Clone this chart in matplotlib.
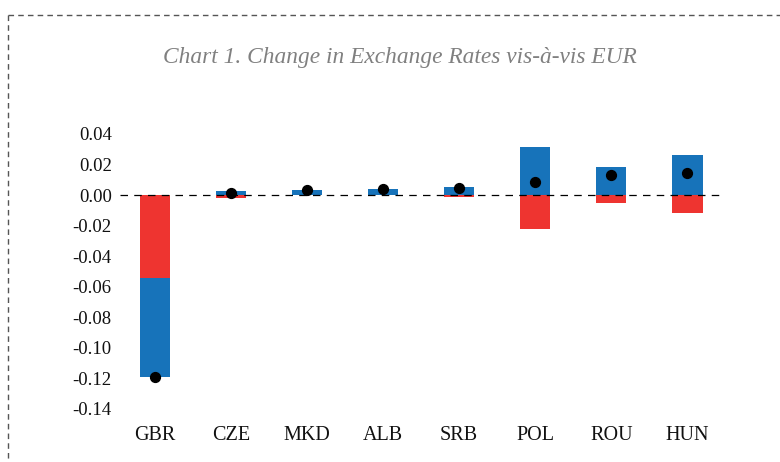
import numpy as np
import matplotlib
matplotlib.use("Agg")
import matplotlib.pyplot as plt
from matplotlib.lines import Line2D

# data
countries = ["GBR", "CZE", "MKD", "ALB", "SRB", "POL", "ROU", "HUN"]
blue_part = [-0.065, 0.0028, 0.0033, 0.0040, 0.0054, 0.0312, 0.0181, 0.0260]
red_part = [-0.054, -0.0018, -0.0003, -0.0003, -0.0011, -0.0224, -0.0054, -0.0120]
total_change = [-0.119, 0.0013, 0.0031, 0.0038, 0.0044, 0.0087, 0.0129, 0.0146]
yticks = [0.04, 0.02, 0.00, -0.02, -0.04, -0.06, -0.08, -0.10, -0.12, -0.14]

BLUE = "#1773BA"
RED = "#EE3430"

plt.rcParams['font.family'] = ['Liberation Serif', 'DejaVu Serif']

W, H = 780, 462
fig = plt.figure(figsize=(W / 100, H / 100), dpi=100)
ax = fig.add_axes([120 / W, 1 - 408.9 / H, 600 / W, 275 / H])

x = np.arange(len(countries))
blue = np.array(blue_part)
red = np.array(red_part)

# GBR has both parts negative: red sits on zero, blue stacked below it
blue_bottom = np.where((blue < 0) & (red < 0), red, 0)
ax.bar(x, red, width=0.4, color=RED, zorder=2)
ax.bar(x, blue, bottom=blue_bottom, width=0.4, color=BLUE, zorder=2)
ax.scatter(x, total_change, s=50, color="black", zorder=4)

ax.axhline(0, color="black", lw=0.9, dashes=(6, 5), zorder=3)

ax.set_xlim(-0.46, 7.43)
ax.set_ylim(-0.14, 0.04)
ax.set_yticks(yticks)
ax.set_yticklabels([f"{v:.2f}" for v in yticks], fontsize=13.5)
ax.set_xticks(x)
ax.set_xticklabels(countries, fontsize=14.5)
ax.tick_params(axis="both", length=0, colors="#111111")
ax.tick_params(axis="x", pad=12)
ax.tick_params(axis="y", pad=6)
for s in ax.spines.values():
    s.set_visible(False)

fig.text(399.5 / W, 1 - 57 / H, "Chart 1. Change in Exchange Rates vis-à-vis EUR",
         ha="center", va="center", fontsize=16.8, style="italic", color="#808080")

# dashed frame (only top and left visible in the crop)
top, left = 1 - 14.7 / H, 8 / W
fig.add_artist(Line2D([left, 1.0], [top, top], transform=fig.transFigure,
                      color="#555555", lw=1.0, dashes=(4, 3)))
fig.add_artist(Line2D([left, left], [top, 0.0], transform=fig.transFigure,
                      color="#555555", lw=1.0, dashes=(4, 3)))

fig.savefig("out.png", dpi=100)
